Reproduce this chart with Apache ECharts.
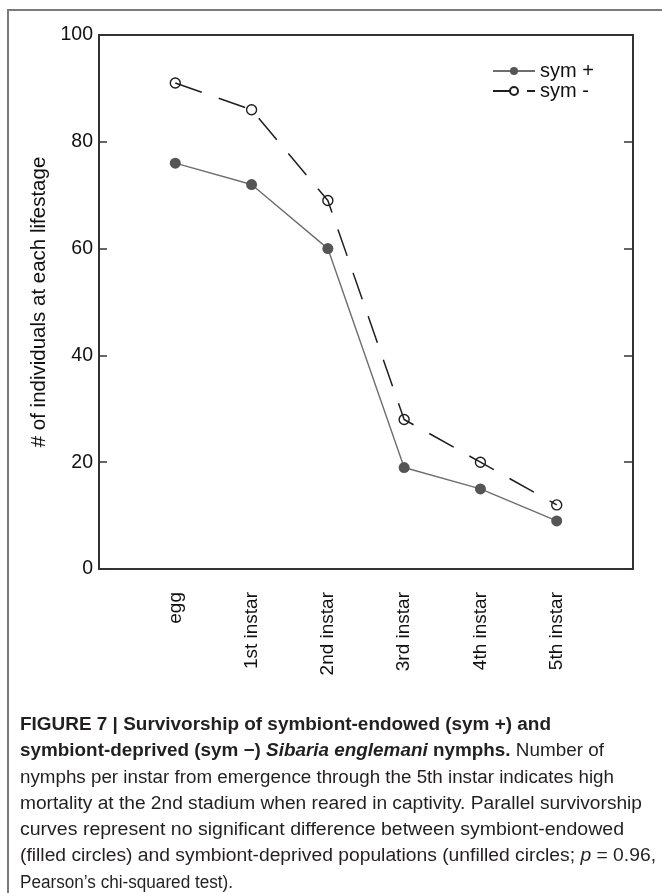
<!DOCTYPE html>
<html>
<head>
<meta charset="utf-8">
<script src="https://cdn.jsdelivr.net/npm/echarts@6/dist/echarts.min.js"></script>
<style>
  html, body { margin: 0; padding: 0; background: #fff; }
  #wrap { position: relative; width: 662px; height: 893px; overflow: hidden; }
  #frame { position: absolute; left: 7px; top: 9px; right: -10px; bottom: -10px;
           border-top: 2px solid #7a7a7a; border-left: 2px solid #7a7a7a; }
  #chart { position: absolute; left: 0; top: 0; width: 662px; height: 893px; }
  #caption { position: absolute; left: 20px; top: 711px; width: 640px;
             font-family: "Liberation Sans", Arial, sans-serif; font-size: 18px;
             line-height: 26.3px; color: #231f20; }
  #caption div { white-space: nowrap; transform-origin: 0 50%; }
  #caption b { font-weight: bold; }
</style>
</head>
<body>
<div id="wrap">
  <div id="frame"></div>
  <div id="chart"></div>
  <div id="caption">
    <div data-w="531"><b>FIGURE 7 | Survivorship of symbiont-endowed (sym +) and</b></div>
    <div data-w="584"><b>symbiont-deprived (sym &minus;) <i>Sibaria englemani</i> nymphs.</b> Number of</div>
    <div data-w="594">nymphs per instar from emergence through the 5th instar indicates high</div>
    <div data-w="622">mortality at the 2nd stadium when reared in captivity. Parallel survivorship</div>
    <div data-w="604">curves represent no significant difference between symbiont-endowed</div>
    <div data-w="636">(filled circles) and symbiont-deprived populations (unfilled circles; <i>p</i> = 0.96,</div>
    <div data-w="213">Pearson’s chi-squared test).</div>
  </div>
</div>
<script>
var categories = ['egg', '1st instar', '2nd instar', '3rd instar', '4th instar', '5th instar'];
var symPlus = [76, 72, 60, 19, 15, 9];
var symMinus = [91, 86, 69, 28, 20, 12];
var yTicks = [0, 20, 40, 60, 80, 100];

function pairs(vals) { return vals.map(function (v, i) { return [i, v]; }); }

var chart = echarts.init(document.getElementById('chart'));
var font = '"Liberation Sans", Arial, Helvetica, sans-serif';
chart.setOption({
  animation: false,
  grid: { left: 99, right: 29, top: 35, bottom: 324, show: true,
          borderColor: '#333', borderWidth: 2, backgroundColor: 'transparent' },
  legend: {
    orient: 'vertical', left: 487, top: 56, itemGap: 0, itemWidth: 42, itemHeight: 10,
    textStyle: { fontFamily: font, fontSize: 20, lineHeight: 18, color: '#111' },
    data: [
      { name: 'sym +' },
      { name: 'sym -', lineStyle: { type: [18, 16] } }
    ]
  },
  xAxis: {
    type: 'value', min: -1, max: 6, interval: 1,
    axisLine: { show: false, onZero: false }, axisTick: { show: false }, splitLine: { show: false },
    axisLabel: { rotate: 90, margin: 23, fontFamily: font, fontSize: 19, color: '#111',
      formatter: function (v) { return categories[v] !== undefined ? categories[v] : ''; } }
  },
  yAxis: [{
    type: 'value', min: 0, max: 100, interval: 20, position: 'left',
    name: '# of individuals at each lifestage', nameLocation: 'middle', nameGap: 44,
    nameTextStyle: { fontFamily: font, fontSize: 20.5, color: '#111' },
    axisLine: { show: false, onZero: false }, splitLine: { show: false },
    axisTick: { show: true, inside: true, length: 8, lineStyle: { color: '#333', width: 1.5 } },
    axisLabel: { margin: 6, fontFamily: font, fontSize: 19.5, color: '#111',
      formatter: function (v) { return yTicks.indexOf(v) >= 0 ? String(v) : ''; } }
  }, {
    type: 'value', min: 0, max: 100, interval: 20, position: 'right',
    axisLine: { show: false, onZero: false }, splitLine: { show: false }, axisLabel: { show: false },
    axisTick: { show: true, inside: true, length: 9, lineStyle: { color: '#333', width: 1.5 } }
  }],
  series: [{
    name: 'sym +', type: 'line', data: pairs(symPlus),
    symbol: 'circle', symbolSize: 11,
    lineStyle: { color: '#6e6e6e', width: 1.4 },
    itemStyle: { color: '#555' }
  }, {
    name: 'sym -', type: 'line', data: pairs(symMinus),
    symbol: 'circle', symbolSize: 10,
    lineStyle: { color: '#1e1e1e', width: 1.5, type: [28, 18] },
    itemStyle: { color: 'rgba(255,255,255,0)', borderColor: '#1e1e1e', borderWidth: 1.4 }
  }]
});

// fit caption lines to the measured widths of the reference line breaks
Array.prototype.forEach.call(document.querySelectorAll('#caption div'), function (d) {
  var target = parseFloat(d.getAttribute('data-w'));
  var span = document.createElement('span');
  while (d.firstChild) span.appendChild(d.firstChild);
  d.appendChild(span);
  var w = span.getBoundingClientRect().width;
  if (w > 0) d.style.transform = 'scaleX(' + (target / w) + ')';
});
</script>
</body>
</html>
